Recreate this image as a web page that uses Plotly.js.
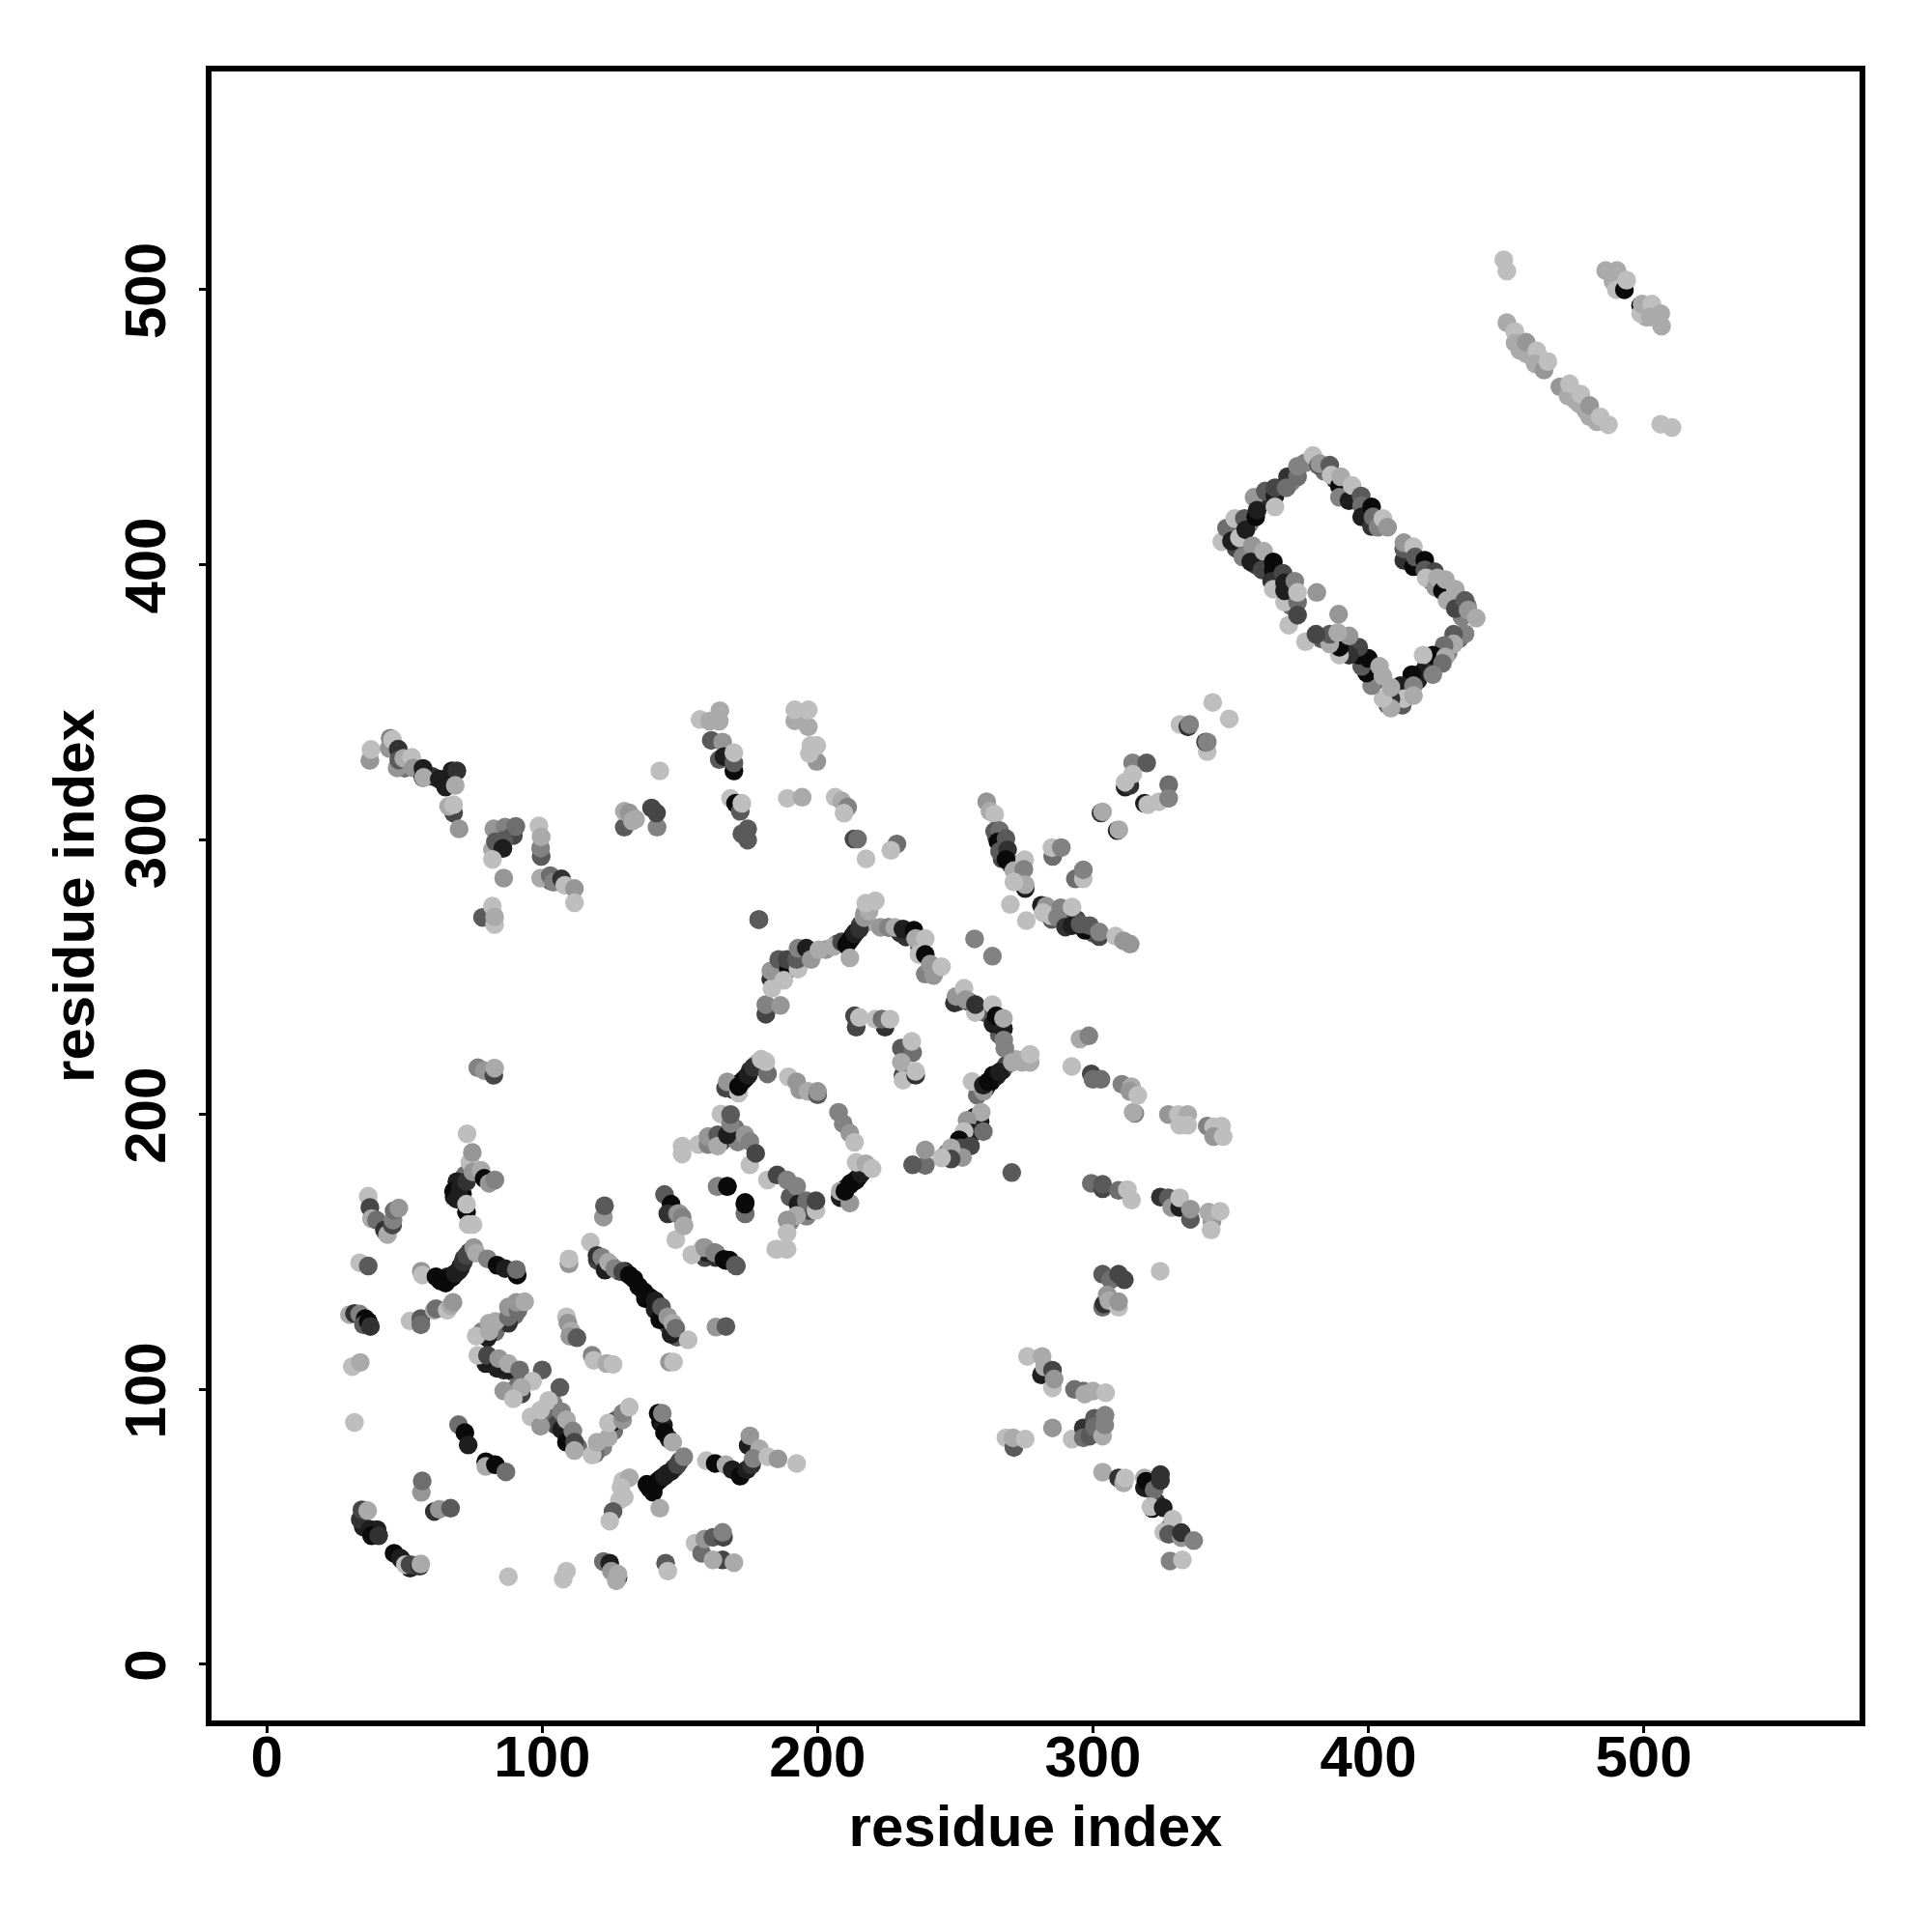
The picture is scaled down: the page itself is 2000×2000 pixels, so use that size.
<!DOCTYPE html>
<html><head><meta charset="utf-8">
<script src="https://cdn.plot.ly/plotly-3.0.1.min.js"></script>
<style>html,body{margin:0;padding:0;background:#fff}#plot{width:2000px;height:2000px}</style>
</head><body><div id="plot"></div>
<script>
// each contact: [residue i, residue j, score 0 (dark) .. 9 (pale)]
const hiddenRuns = [[63,139.5,0],[65.5,141,1],[67.5,141,0],[69.5,143,1],[70.5,145,1],[71.5,147.5,2],[73.5,150,3],
[139,64,0],[141,65.5,0],[143,67.5,0],[145.5,69.5,1],[148,71.5,2],[150,74,3],[143,88,0],[144,87,1],[146,82,1],
[209.5,262,0],[212.5,264.5,0],[214,266.5,1],[215.5,269,3],[217,273,7],[218,270,8],
[169.5,209,0],[170.5,211,0],[172,211.5,0],[174,213.5,1],[175.5,216,2],[177.5,218,4],[178.5,219,7],
[258,207,5],[261,209.5,1],[263,212,0],[265,214,1],[267,216,1],[268.5,218,3],[272,220,8],[275,220,8],
[208.5,170,0],[210,173,0],[212,175,0],[213,175.5,1],[215,177.5,1],[216.5,180,4],[218.5,181,7],
[68,170,1],[69,172,0],[70.5,175,1],[71,171,0],[72,178,5],
[352,413,3],[357,415,6],[361,423,5],[364,424,2],[368,428,3],[372,430,6],[377,437,6],
[384,434,5],[388,431,2],[392,426,1],[395,424,5],[399,419,3],[403,416,4],
[414.5,403,3],[418.5,400,0],[422,398,6],[423,394,4],[427,392,5],[430,389,7],[433,386,4],[436,385,6],[434,381,6],
[433,373,5],[429,368,6],[425,365,4],[421,363,2],[418,358,1],[414,355,3],[410,353,2],[407,349,4],
[403,358,3],[398,365,2],[395,368,1],[391,370,1],[387,372,5],[383,373,4],
[352,406,3],[355,404,4],[359,400,3],[363,399,1],[367,395,2],[371,392,4],[372,385,5],
[186,253,4],[190,254,2],[194,258,3],[198,258,5],[203,260,7],[207,262,4],[226,268,6],[230,266,2],[233,266,0],[237,261,4],[241,252,5],
[251,241,4],[255,241,3],[261,237,4],[266,233,1],[266,229,4],[268,224,6],[257,195,4],[254,191,2],[250,186,4],[247,186,6],[257,199,1],
[120,147,3],[125,145,2],[128,143,3],[130,143,1],[135,137.5,0],[137,135.5,0],[137.5,133,0],[141,129,1],[144,127,2],[146,123,3],[149,119,4],
[85,124,5],[78,121,6],[83,121,5],[90,127,5],
[82,111,3],[86,107,2],[90,106,5],[94,103,6],[90,100,5],[104,95,6],[104,90,5],[105,87,3],[110,83,4],[113,79,5],[122,79,6],[126,85,5],[127,89,5],
[190,170,4],[194,166,3],[196,163,6],[197,165,3],[190,161,6],[162,190,5],[165,190,3],[170,195,5],[171,190,6],
[265,301,3],[267,298,2],[267,293,3],[270,291,4],[273,287,6],[273,291,5],
[285,271,4],[290,273,4],[294,271,3],[300,266,4],[286,274,5],
[49,38,2],[52,35,1],[54,36,3],[35,50,1],[40,49,1],[159,148,3],[163,148,2],[168,147,0],
[320,64,3],[322,66,1],[323,59,2],[328,50,5],
[60,323,2],[65,322,1],[67,322,2],[50,326,5],[86,302,4],[103,285,4],[106,285,4],
[455,478,8],[459,476,8],[464,474,8],[475,460,8],[479,456,8],[483,452,8],[491,503,8],[501,490,8]];
const bottomLeft = [[36.8,170.3,9],[37.4,166.2,3],[38,162.1,8],[39.8,161.6,5],[42.7,158,2],[43.8,156.3,8],[45.6,159.8,3],[45.8,161.6,6],[46.2,165,5],[47.9,166,7],
[73.7,182.6,9],[74.6,186.2,7],[72.7,193,9],[69,175.6,1],[67.8,172.1,0],[70.2,173.3,1],[72.5,175.6,2],[74.8,179.1,7],[77.8,179.7,8],[78.9,176.8,0],[80.7,175,7],[82.8,176.2,6],[69,169.2,1],[72.5,164.5,0],[72.5,167.4,9],[73.1,160,9],[74.8,160,9],
[33.7,146.1,9],[36.8,144.9,4],[56.1,143,7],[56.5,141.6,9],[61.4,141,0],[64.9,138.7,0],[66.7,140.5,0],[68.4,142.2,1],[70.2,144,1],[71.3,146.3,2],[72.5,148.7,3],[75.1,151.6,7],[76,149.6,8],[80.1,147.5,6],[83.6,145.2,0],[90.9,141.6,0],[86.5,144,1],[90.6,143.6,5],
[30,127.2,8],[31.8,127.6,2],[33.7,127.4,6],[35.7,125.8,0],[35.1,123.5,4],[36.8,124.7,0],[37.6,122.9,2],
[52,124.9,9],[55.9,125.8,4],[55.9,123.5,5],[60.8,128.8,8],[61.4,129.4,5],[65.5,128.8,9],[66.7,130.5,8],[67.6,131.7,7],
[80.1,118.8,1],[76,119.4,9],[80.7,121.1,8],[87.7,124.1,2],[83,124.7,8],[80.7,124.1,8],[87.7,126.4,5],[87.7,130,7],[91.2,128.8,5],[90.6,131.7,7],[93.6,131.9,8],
[79.5,109.4,1],[76.6,112.4,9],[80.1,112.4,3],[83.6,107.7,1],[84.2,111.2,7],[87.7,107.1,1],[87.7,109.4,8],[91.8,107.1,5],[100,107.1,4],[96.5,103,9],[92.4,98.3,3],[92.4,100.7,8],[86,99.5,7],[89.5,96.6,9],[106.4,100.7,4],[102.3,96,9],
[95.9,90.1,9],[99.4,86.6,7],[99.4,92.5,9],[107,85.4,1],[107,91.9,6],[108.8,80.8,0],[108.8,89,8],[111.1,84.9,6],[111.7,80.8,3],[111.7,77.8,8],[119.3,76.7,5],[118.1,76.1,9],[119.9,80.8,8],[125.1,87.8,1],[124,82.5,8],[124,87.8,9],[129.2,88.9,7],[129.2,91.3,6],[131.6,93.6,9]];
const lowerMiddle = [[108.8,126.4,9],[109.3,124.1,7],[110.5,121.2,8],[110,119.4,7],[112.6,118.8,4],[118.1,112.4,6],[118.7,110.6,9],[123.4,109.4,8],[125.7,109.1,9],[109.7,145.7,7],[109.7,147.5,9],
[117.5,153.6,9],[119.9,148.7,2],[121.6,148.1,6],[122.8,143.4,1],[124,146.3,8],[126.3,144,6],[129.2,142.8,3],[131.6,141.6,0],[133.3,140.2,0],[139.2,133.4,0],[141,132.3,1],[142.7,125.3,0],[143.3,130,4],[146.8,120,1],[145.6,126.4,7],[147.4,124.1,8],[148.5,122.3,5],[153,118,9],[163.1,122.7,7],[166.7,122.9,4],[146.2,110,7],[147.7,110,9],
[144.4,170.9,4],[146.8,167.4,0],[145.6,163.9,2],[149.1,163.9,6],[148.5,154.5,9],[151.4,159.8,7],[122.2,162.7,7],[122.6,166.8,4],
[154.4,149,9],[158.5,151.6,8],[159.6,149.8,1],[163.1,149.6,6],[166.7,146.9,0],[170.5,144.9,4],[184.8,151,9],[188.6,151,9],
[163.5,173.8,6],[167.2,173.8,0],[173.7,163.9,5],[173.7,168,0],
[56.1,62.6,7],[56.4,66.7,5],[60.8,55.6,2],[62.6,56.4,7],[66.7,56.8,4],[33.9,52.7,2],[34.5,56.2,3],[36.6,55.9,8],[37.4,49.1,1],[38,46.8,0],[40.6,46.8,2],[46.2,40.4,0],[48.5,38.6,1],[50.3,36.3,9],[52,36.3,3],[55.5,35.7,2],[55.9,36.5,8],
[69.6,87.2,5],[71.9,84.3,0],[73.1,79.8,1],[79.5,73.7,0],[79.5,72,8],[83,72.6,0],[86.8,70,5],[31.8,88,9],[31,108.3,9],[33.9,109.8,8],
[87.7,31.9,9],[107.6,31,9],[108.8,33.9,9],[122.2,37.4,5],[124.5,36.8,1],[127.5,31.6,2],[125.1,33.9,7],[127.5,32.8,8],[126.9,30.4,8],[144.8,36.8,4],[145.6,33.9,9],
[155.5,44.1,9],[157.9,40.4,5],[159,45.6,7],[162,46.2,4],[165.8,46.2,3],[165.5,48,6],[165.5,38,3],[162,38,8],[169.6,37,8],
[142.1,91.3,0],[143.6,91.3,6],[144.4,84.3,0],[147.4,80.8,8],[138,65.5,0],[140.3,62.6,0],[139.8,65,0],[142.1,66.7,0],[144.4,68.5,1],[146.8,70.2,1],[149.1,72.6,3],[151.4,75.5,6],[142.7,56.8,8],
[129.2,66.7,9],[131.6,67.9,8],[128.6,64.4,9],[129.8,60.8,9],[128,59.7,9],[125.7,55.6,4],[124.5,52.1,9],
[159.6,74.1,9],[162.8,73.1,0],[166.7,72.6,8],[169,70.8,1],[171.9,68.5,0],[174.3,70.8,1],[176,72.6,2],[174.8,79.6,1],[175.4,83.1,7],[178.9,78.4,8],[176.6,74.9,6],[181.9,75.5,9],[185.6,74.7,7],[192.4,73.1,9]];
const centralArc = [[178.7,270.9,4],[181.2,236.5,3],[181.2,240,6],[186.5,239.7,7],[183,249.4,2],[183.4,245.9,9],[183,252.3,7],[185.9,256.4,4],[189.4,252.9,0],[188.9,256.4,3],[187.7,248.8,9],[192.9,252.9,9],[192.4,256.4,4],[192.9,260.5,6],[195.9,260.5,1],[197.6,256.4,7],[200.5,259.9,8],[205.8,261.1,8],[208.7,262.8,3],[210.5,261.7,0],[211.7,263.4,0],[213.4,265.8,1],[215.2,267.5,2],[211.7,257,8],[216.9,271.6,7],[218.7,274,8],[217.5,276.9,9],[221,277.7,9],
[222.8,268.1,7],[225.7,268.1,6],[228,268.1,8],[232.1,264.6,2],[231,267.5,1],[235,267,0],[235.6,264,8],[239.1,264,9],[236.8,258.2,9],[239.1,258.2,0],[239.1,251.1,6],[240.9,254.7,7],[242.1,250.6,7],[245,253.8,9],
[257,263.9,6],[263.5,257.6,6],[249.7,240.6,2],[250.3,243,7],[253.2,245.9,9],[253.8,241.8,7],[257.3,237.1,9],[257.3,240,2],[263.5,240,9],[263.7,233,1],[264.9,235.9,0],[267.5,231.2,1],[267.5,235,8],[267.6,227.1,6],
[256.1,212,9],[260.2,208.4,7],[260.2,210.7,1],[262,212,0],[263.7,214.3,0],[266,215.4,1],[270.7,219,8],[274.2,219,8],[277.2,219,8],[277.2,221.9,9],
[259,197.3,1],[259.4,200.8,8],[254.3,197.9,7],[256.1,193.2,1],[253.2,193.8,9],[260.2,193.8,5],[251.4,190.8,0],[252,187.9,3],[255.5,188.5,3],[252.6,184.4,7],[248.5,187.9,8],[248.5,183.8,3],[245,184.2,9],[239.1,181.5,5],[234.5,181.7,4],[239.1,187.1,7],
[214,231.8,3],[213.4,235.9,3],[215.2,235.3,9],[224.5,231.8,2],[221,234.7,9],[223.4,234.7,5],[226.3,234.7,9],[230.4,224.2,4],[234.5,222.5,5],[234.2,226.6,9],[231,214.3,3],[231,212.5,9],[235.6,214.3,2],[230.4,219,8],[235.6,215.7,9],
[166.6,209.6,3],[167.2,211.9,7],[171.3,207.8,9],[171.3,210.2,0],[173.1,212.5,0],[174.8,214.3,1],[176.6,217.2,2],[181.8,214.8,5],[179.5,220.1,9],[181.2,219.2,9],
[189.4,213.7,9],[192.4,211.9,7],[193.5,209,7],[196.5,208.4,8],[200,207.2,4],[200,208.4,7],[207.6,200.8,6],[209.3,196.7,6],[211.7,193.2,7],[213.4,189.9,9],
[150.8,185.6,9],[150.8,188.5,9],[156.7,189.1,9],[160.2,189.1,6],[160.2,192,7],[163.7,192.6,4],[163.7,188.5,8],[167.2,192.6,1],[164.9,200.2,9],[168.4,196.7,6],[168.4,200,4],[173.6,192.6,7],[175.4,190.2,6],[175.4,181.7,9],[177.5,185.9,3],
[163.9,173.9,6],[167.2,173.9,0],[173.6,164.1,5],[173.6,167.4,0],[181.8,176.2,9],[185.3,178,3],[188.9,176.2,6],[192.4,173.9,6],[192.9,167.4,1],[195.9,168.6,5],[199.4,165.1,9],[199.4,168.6,3],[192.4,163.3,8],[188.9,161.6,7],[188.9,156.9,9],[185.3,151,9],[188.9,151,9],
[208.2,169.8,1],[211.7,167.8,7],[208.2,172.1,8],[209.9,172.1,0],[211.7,174.4,0],[214,176.2,0],[215.8,178.5,1],[214,182.6,9],[217.5,182.1,8],[219.8,180.3,9],
[149.7,164,7],[150.8,162.7,6],[151.4,159.5,8],[154.3,149,9],[159,151.6,7],[162.5,149.8,6],[166,147.3,0],[170.1,145.2,4],
[270.5,178.9,4]];
const rightBranch = [[343.5,349.9,9],[349.5,343.9,9],[331.6,341.9,9],[334.5,341,2],[335.1,341.9,6],[341.5,332,9],[340.9,335.5,3],[341.5,335.5,6],[314.4,327.9,6],[319.5,327.9,4],[311.7,319.1,1],[313.4,319.7,2],[311.7,320.9,9],[314.4,323.8,9],[327.5,320,5],[318.7,313.2,1],[319.9,312.7,9],[324,313.8,9],[327.5,315,6],[302.9,309.7,2],[303.5,310.1,8],[308.8,303.3,1],[309.4,303.6,8],
[285.4,293.9,5],[285.1,297.1,9],[288.5,297.1,6],[293.6,285.7,5],[296.5,285.7,9],[296.5,289,6],
[261.4,313.8,7],[262.6,310.3,8],[264.3,309.2,9],[264.3,303,4],[266.1,303.3,5],[265.5,299.2,0],[268.4,300.4,4],[266.1,295.7,4],[269,296.3,2],[268.4,292.8,0],[271.3,288.7,8],[275.2,292.7,9],[274.9,289.2,6],[275.4,282.2,1],[275.4,283.6,8],[271.3,284.6,9],[270,276.4,9],[275.8,270.5,9],
[281.3,276.1,1],[283,275.8,7],[281.9,273.4,9],[284.8,272.3,9],[287.1,271.7,6],[288.3,275.2,6],[290,268.2,2],[292.4,268.7,1],[292.4,275.5,9],[297.1,267,0],[295.3,269.3,4],[298.8,268.7,4],[302.3,264.7,3],[302.3,266.4,6],[308.2,264.9,9],[311.1,263.2,7],[313.5,262,7],
[295.3,227.5,8],[298.5,228.6,6],[292.3,217.5,9],[299.4,214.8,3],[300,212.8,5],[302.9,212.8,5],[310.5,211,6],[314,210.1,8],[313.4,208.4,7],[315.2,200.4,6],[314.6,200.8,8],[316.3,207,9],
[327.4,200,7],[331,200,9],[334.4,200,8],[331.5,196.1,9],[334.4,196.1,9],[341.5,195.8,6],[343.8,195.5,9],[346.7,195.8,9],[343.8,192,7],[347.3,192,9],
[299.4,175,5],[303.5,173,3],[303.5,174.6,4],[309.3,172.4,5],[312.5,172.7,9],[314,168.9,9],[324.5,170,2],[327.4,169.7,4],[328.6,166.2,7],[331.5,166.2,1],[331.5,169.7,9],[335.4,161.9,4],[335.4,165.6,7],[343.2,161,7],[342,164.5,8],[342.9,158,9],[346.2,164.8,9],
[303.5,141.9,4],[306.4,139.9,5],[309.3,141.9,3],[311.4,139.9,3],[303.5,129.9,5],[304,131.1,2],[305.2,134.4,7],[305.8,132.3,8],[309.3,129.9,9],[309.3,131.9,7],[324.4,143,9],
[276.2,112,9],[281.5,112,8],[281.3,105.3,1],[282.4,108.2,8],[285.3,107,3],[285.3,100.6,9],[285.9,103.8,7],[293.3,100,5],[296.5,99.4,5],[297,98.3,8],[300,99.4,8],[304.6,98.8,9],[285.3,86,7],
[292.4,81.9,9],[296.5,86,2],[296.5,82.4,5],[298.8,83,4],[300.5,89.5,4],[300.5,86.5,5],[303.5,83,8],[304.3,87.1,6],[304.4,90.6,6],
[268.4,82.4,9],[271.3,78.9,4],[271,82.4,8],[275.4,81.9,9],[303.5,69.9,8],[309.3,67.8,2],[311.1,66,8],[311.7,67.8,9],
[318.7,64.3,1],[318.7,67.8,8],[319.3,66.6,0],[322.2,63.5,5],[324.5,69,2],[324.5,66.9,2],[321.6,56.7,0],[321,57.3,9],[325.5,57,1],[329,52.8,9],[325.7,48.1,9],[327.5,47.3,4],[332.1,46.1,7],[332.1,47.9,2],[336.6,45,6],[328,37.6,6],[332.5,38,9]];
const upperRight = [[449.2,510.9,9],[450.3,506.8,9],[450.3,488,8],[453.2,484.8,9],[453.3,480.7,8],[457.3,476.8,8],[457.3,480.9,7],[461.2,477.8,9],[460.6,473.1,8],[463.8,470.8,7],[465.2,473.9,9],[469.6,464.7,7],[472.5,461.4,8],[473.1,465.8,9],[476.6,458.5,8],[477.2,462,9],[480.4,453.8,8],[480.4,457.9,7],[484.2,453.8,9],[487.2,450.9,9],[506.2,451.1,9],[510.3,449.9,9],
[486.2,507,8],[490.3,507,8],[488.9,503,8],[490.1,500,9],[493,500,0],[493.8,503.5,9],[498.9,494.2,0],[498.9,491.3,9],[499.4,494.8,8],[503,494.8,9],[502.4,490.1,8],[506.5,486.8,8],[506.2,491.3,8]];
const rectangleA = [[346.8,408.4,9],[348.5,413.3,5],[350.3,408.6,1],[351.5,416.8,9],[353.2,409.8,9],[355,416.8,4],[355.5,412.7,1],[358.5,424.5,7],[359.1,417.4,0],[359.6,419.8,1],[362.6,426.8,4],[366.1,425,1],[366.1,428,3],[366.1,421,9],[370.7,432,2],[370.2,428,5],[374.3,432,5],[374.3,435.8,6],
[379.9,439.7,9],[381.9,436.2,4],[382.4,436.7,7],[386,436.2,4],[386.5,432.6,9],[389.5,428.6,0],[389.5,424.5,6],[390,432,8],[393,423.3,1],[394.1,428.8,9],[397.4,425,4],[397.6,421.5,5],[397.6,417.4,1],[401.2,421,0],[401.2,413.9,2],[401.7,417.4,5],[403.5,413.6,6],[405.3,416.8,9],[407,413.6,7],
[412.9,401.6,2],[412.9,405.7,4],[412.9,408,7],[416.4,406.5,9],[416.4,399.3,0],[417,402.8,4],[420.5,401.6,0],[420.5,398.1,4],[424,397.5,3],[421,395.2,9],[424.5,391.7,7],[425.1,395.2,8],[426.9,390.5,0],[428,394.6,8],[428.6,387,8],[431.6,384,3],[431.6,391.1,8],[435.1,387,4],[436.2,383.5,7],[439.2,380.6,8]];
const rectangleB = [[435.1,374.9,6],[431,374.7,4],[431,371.2,8],[427.5,370.6,5],[423.4,367.1,0],[428,366.5,8],[419.9,367.1,9],[426.9,364.1,5],[419.3,360.6,1],[423.4,360,6],[415.8,360,0],[411.7,356,1],[416.4,356,6],[412.3,348.9,4],[412.9,351.3,9],[416.4,352.4,8],[408.2,351.3,2],[408.2,347.8,8],[405.3,351.3,9],[401.2,356,6],[399.4,360.6,0],[408.2,355.4,8],[405.3,359.5,8],[397.6,363,4],[396.5,367.1,0],[400,365.9,0],[404.1,363,8],
[396.5,370,3],[393,367.1,2],[389.5,367.1,9],[389.5,370,0],[393,374.1,7],[386,371.2,8],[386,374.7,4],[388.9,375.3,8],[377.2,372,9],[381,374.7,3],[389.2,382,7],[381.3,389.9,7],
[354.4,402.8,6],[357.9,406.9,7],[357.3,401,1],[361.4,398.1,3],[362,404.9,8],[365.5,401,0],[365.5,398.1,0],[364.9,394,2],[365.5,391.1,9],[369.6,386.4,9],[369,396.9,3],[369.6,393.4,1],[369.6,390.5,1],[373.3,394,6],[374.3,386.4,5],[374.3,389.9,9],[371.1,378,9],[374.3,381.7,3]];
const upperLeft = [[37.4,328.8,7],[37.8,332.8,9],[44.8,336.9,6],[44.4,333.2,7],[45.6,336.4,9],[47.7,332.9,2],[47.3,326.1,7],[47.9,329,4],[49.7,329.6,8],[52.6,329.9,9],[53.2,326.1,7],[56.7,322.6,0],[56.7,325.9,1],[56.9,322.6,8],[62.6,322,1],[64.9,319.1,1],[67.2,325,1],[69,325,2],[68.4,319.7,8],[67.8,309.7,3],[66,312.1,8],[67.8,312.7,9],[69.8,303.9,7],
[82.4,303.9,7],[86.5,304.5,6],[89.5,301.5,3],[90.4,304.8,5],[81.9,296.3,8],[83,299.2,4],[86,299.8,4],[85.7,296.8,1],[81.9,292.8,9],[86,286,7],
[99.6,293.9,4],[99.4,296.9,6],[98.8,305,9],[99.6,301,8],[99.4,286,8],[102.9,286.9,5],[104.1,284.5,6],[107,285.7,2],[108.2,283.4,9],[111.7,282.2,7],[111.7,277,9],
[78.3,271.7,4],[81.9,275.8,9],[82.7,269.1,9],[82.7,271.9,8],[76.6,217,6],[78.9,216,7],[82.4,214.3,3],[82.7,216.9,8],
[129.8,304.5,4],[129.8,310.3,8],[131.6,309.7,7],[132.7,306.8,8],[133.9,307.4,8],[141.7,304.5,6],[139.7,311.5,3],[141.5,309.7,3],[142.7,325,9],
[157.3,343.7,9],[160.8,343.1,8],[164.3,343.1,8],[164.5,346.9,8],[161.4,336.1,4],[165.5,335.5,7],[169.6,325,0],[164.3,329.1,4],[166,330.2,1],[169.6,327.9,4],[169.6,331.6,9],
[168.4,315,9],[170.2,313.2,0],[171.9,310.3,4],[172.5,313.2,9],[172.5,302.1,4],[174.6,303.9,4],[174.6,299.8,4],[178.6,270.9,4],
[191.7,343.2,8],[191.7,347.2,9],[196.6,341,8],[196.6,347.2,9],[199.7,328.4,7],[197,331.3,9],[197.5,334.2,9],[199.7,334.2,9],
[189,315,9],[194.4,315.4,8],[206.4,315.4,9],[208.7,314.1,8],[210.9,311.8,6],[209.6,309.6,9],[213.2,300.2,3],[214.5,300.2,5],[217.6,293,9],[228.8,298.4,5],[226.6,296.1,9]];
const tickValues = [0,100,200,300,400,500];
const axisLabel = "residue index";

const contacts = [...hiddenRuns,...bottomLeft,...lowerMiddle,...centralArc,...rightBranch,...upperRight,...rectangleA,...rectangleB,...upperLeft];
const F = "'Liberation Sans', Arial, sans-serif";
const axis = (standoff, extra) => Object.assign({
  tickmode:'array', tickvals:tickValues, ticktext:tickValues.map(String),
  showgrid:false, zeroline:false, showline:true, mirror:true, linecolor:'#000', linewidth:6,
  ticks:'outside', ticklen:7, tickwidth:3, tickcolor:'#000',
  tickfont:{family:F,size:60,color:'#000',weight:700},
  title:{text:axisLabel,font:{family:F,size:60,color:'#000',weight:700},standoff:standoff},
  automargin:false
}, extra);
Plotly.newPlot('plot',[{
  type:'scatter',mode:'markers',
  x:contacts.map(c=>c[0]),y:contacts.map(c=>c[1]),
  marker:{symbol:'circle',size:19.5,color:contacts.map(c=>c[2]),cmin:0,cmax:9,
    colorscale:[[0,'#0a0a0a'],[1,'#bebebe']],showscale:false,line:{width:0}},
  hoverinfo:'x+y'
}],{
  width:2000,height:2000,showlegend:false,paper_bgcolor:'#fff',plot_bgcolor:'#fff',
  margin:{l:219.3,r:75,t:74,b:219,pad:0},
  xaxis:axis(20,{range:[-20.1,578.4],tickangle:0,ticklabelstandoff:-27}),
  yaxis:axis(2,{range:[-20.4,579.4],tickangle:-90,ticklabelstandoff:11,ticklabelshift:10})
},{staticPlot:true,displayModeBar:false});
</script></body></html>
